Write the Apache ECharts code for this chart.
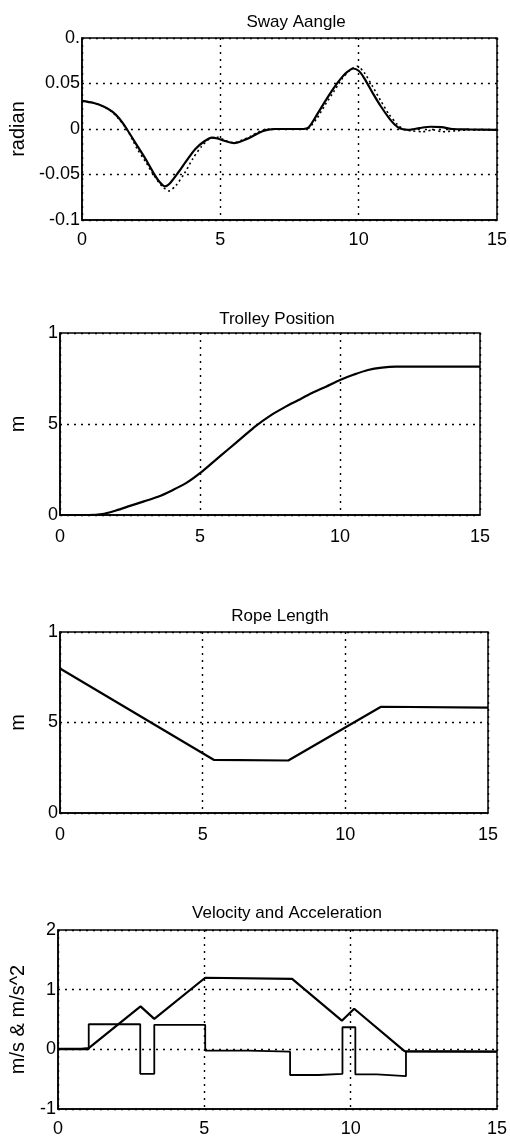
<!DOCTYPE html>
<html>
<head>
<meta charset="utf-8">
<script src="https://cdn.jsdelivr.net/npm/echarts@6/dist/echarts.min.js"></script>
<style>
  html, body { margin: 0; padding: 0; background: #fff; }
  #chart { width: 510px; height: 1140px; }
</style>
</head>
<body>
<div id="chart"></div>
<script>
// sway angle (radian), solid = measured, dotted = simulated
var swayT = [0, 0.4, 0.8, 1.1, 1.35, 1.62, 2.03, 2.3, 2.6, 2.8, 3.0, 3.2, 3.5, 3.8, 4.1, 4.4, 4.7, 4.9, 5.2, 5.5, 5.8, 6.1, 6.4, 6.7, 7, 8, 8.2, 8.5, 8.8, 9.1, 9.4, 9.6, 9.8, 10, 10.2, 10.5, 10.8, 11.1, 11.3, 11.5, 11.8, 12.2, 12.6, 13, 13.4, 14, 15];
var swaySolid = [0.031, 0.0288, 0.0245, 0.019, 0.0115, 0, -0.020, -0.033, -0.049, -0.058, -0.063, -0.059, -0.047, -0.034, -0.022, -0.014, -0.0095, -0.0105, -0.0135, -0.0155, -0.013, -0.009, -0.004, -0.001, 0, 0, 0.002, 0.016, 0.031, 0.045, 0.057, 0.063, 0.0665, 0.064, 0.056, 0.040, 0.025, 0.012, 0.005, 0.0005, -0.001, 0.001, 0.0025, 0.002, 0, -0.0005, -0.001];
var swayDotT = [0, 0.4, 0.8, 1.1, 1.35, 1.62, 2.0, 2.3, 2.6, 2.9, 3.15, 3.4, 3.7, 4.0, 4.3, 4.6, 4.9, 5.2, 5.5, 5.8, 6.1, 6.4, 6.7, 8, 8.2, 8.5, 8.8, 9.1, 9.4, 9.7, 9.95, 10.2, 10.5, 10.8, 11.1, 11.4, 11.6, 11.9, 12.3, 12.7, 13, 13.5, 14, 15];
var swayDotted = [0.031, 0.0288, 0.0245, 0.0185, 0.0105, 0, -0.022, -0.036, -0.051, -0.063, -0.068, -0.062, -0.049, -0.033, -0.020, -0.011, -0.009, -0.013, -0.015, -0.012, -0.008, -0.003, 0, 0, 0.001, 0.012, 0.027, 0.041, 0.055, 0.065, 0.069, 0.062, 0.047, 0.031, 0.016, 0.005, 0, -0.002, -0.003, -0.001, -0.003, -0.002, -0.001, -0.001];

// trolley position (m)
var trolleyT = [0, 1, 1.5, 2, 2.5, 3, 3.5, 4, 4.5, 5, 5.5, 6, 6.5, 7, 7.5, 8, 8.5, 9, 9.5, 10, 10.5, 11, 11.5, 12, 15];
var trolleyPos = [0, 0, 0.05, 0.25, 0.5, 0.75, 1.0, 1.35, 1.75, 2.3, 2.95, 3.6, 4.25, 4.9, 5.45, 5.9, 6.3, 6.7, 7.05, 7.42, 7.72, 7.97, 8.1, 8.15, 8.15];

// rope length (m)
var ropeT = [0, 5.4, 8.0, 11.25, 15];
var ropeLen = [7.98, 2.93, 2.9, 5.87, 5.82];

// velocity and acceleration
var velT = [0, 0.8, 1.05, 2.82, 3.29, 5.03, 8.0, 9.7, 10.12, 11.84, 15];
var velV = [0.01, 0.01, 0.02, 0.72, 0.51, 1.2, 1.18, 0.48, 0.68, -0.03, -0.04];
var accT = [0, 1.05, 2.81, 3.29, 5.03, 6.5, 7.93, 8.9, 9.72, 10.16, 10.9, 11.89, 15];
var accV = [0, 0.42, -0.41, 0.41, -0.02, -0.04, -0.43, -0.41, 0.37, -0.42, -0.45, -0.04, -0.04];

// tick labels as printed (top labels are clipped in the original)
var timeTicks = ['0', '5', '10', '15'];
var swayTicks = ['-0.1', '-0.05', '0', '0.05', '0.'];
var meterTicks = ['0', '5', '1'];
var velTicks = ['-1', '0', '1', '2'];

var titles = ['Sway Aangle', 'Trolley Position', 'Rope Length', 'Velocity and Acceleration'];

function pairs(xs, ys) {
  return xs.map(function (x, i) { return [x, ys[i]]; });
}

var font = "'Liberation Sans', Arial, sans-serif";
var grids = [
  { left: 68, top: 38, width: 434, height: 182 },
  { left: 47, top: 333, width: 433, height: 182 },
  { left: 50, top: 632, width: 438, height: 181 },
  { left: 45, top: 930, width: 452, height: 179 }
];
var titleTops = [9, 306, 603, 900];
var titleCenters = [291, 272, 275, 282];
var yNames = ['radian', 'm', 'm', 'm/s & m/s^2'];
var yGaps = [52, 32, 32, 30];
var yRanges = [[-0.1, 0.1, 0.05, swayTicks], [0, 10, 5, meterTicks], [0, 10, 5, meterTicks], [-1, 2, 1, velTicks]];
var xMargins = [11, 13, 13, 11];

var dotted = { show: true, lineStyle: { color: '#000', type: [2, 5], width: 1.4 } };

var option = {
  animation: false,
  backgroundColor: '#fff',
  title: titles.map(function (t, i) {
    return {
      text: t, left: titleCenters[i], top: titleTops[i], textAlign: 'center',
      textStyle: { fontFamily: font, fontSize: 17, fontWeight: 'normal', color: '#000' }
    };
  }),
  grid: grids.map(function (g) {
    return Object.assign({ show: true, borderColor: '#000', borderWidth: 1.5, backgroundColor: 'transparent' }, g);
  }),
  xAxis: grids.map(function (g, i) {
    return {
      type: 'value', gridIndex: i, min: 0, max: 15, interval: 5,
      axisLine: { show: true, onZero: false, lineStyle: { color: '#000', width: 1.5 } },
      axisTick: { show: false },
      splitLine: dotted,
      axisLabel: {
        margin: xMargins[i], fontFamily: font, fontSize: 18, color: '#000',
        formatter: function (v) { return timeTicks[Math.round(v / 5)]; }
      }
    };
  }),
  yAxis: grids.map(function (g, i) {
    var r = yRanges[i];
    return {
      type: 'value', gridIndex: i, min: r[0], max: r[1], interval: r[2],
      name: yNames[i], nameLocation: 'middle', nameGap: yGaps[i], nameRotate: 90,
      nameTextStyle: { fontFamily: font, fontSize: 20, color: '#000' },
      axisLine: { show: true, onZero: false, lineStyle: { color: '#000', width: 1.5 } },
      axisTick: { show: false },
      splitLine: dotted,
      axisLabel: {
        margin: 2, fontFamily: font, fontSize: 18, color: '#000',
        formatter: function (v) { return r[3][Math.round((v - r[0]) / r[2])]; }
      }
    };
  }),
  series: [
    { type: 'line', xAxisIndex: 0, yAxisIndex: 0, data: pairs(swayDotT, swayDotted), smooth: 0.25, symbol: 'none',
      lineStyle: { color: '#000', width: 1.6, type: [2, 3] } },
    { type: 'line', xAxisIndex: 0, yAxisIndex: 0, data: pairs(swayT, swaySolid), smooth: 0.25, symbol: 'none',
      lineStyle: { color: '#000', width: 2.2 } },
    { type: 'line', xAxisIndex: 1, yAxisIndex: 1, data: pairs(trolleyT, trolleyPos), smooth: 0.3, symbol: 'none',
      lineStyle: { color: '#000', width: 2.2 } },
    { type: 'line', xAxisIndex: 2, yAxisIndex: 2, data: pairs(ropeT, ropeLen), symbol: 'none',
      lineStyle: { color: '#000', width: 2.2 } },
    { type: 'line', xAxisIndex: 3, yAxisIndex: 3, data: pairs(accT, accV), step: 'end', symbol: 'none',
      lineStyle: { color: '#000', width: 1.8 } },
    { type: 'line', xAxisIndex: 3, yAxisIndex: 3, data: pairs(velT, velV), symbol: 'none',
      lineStyle: { color: '#000', width: 2.2 } }
  ]
};

var chart = echarts.init(document.getElementById('chart'));
chart.setOption(option);
</script>
</body>
</html>
